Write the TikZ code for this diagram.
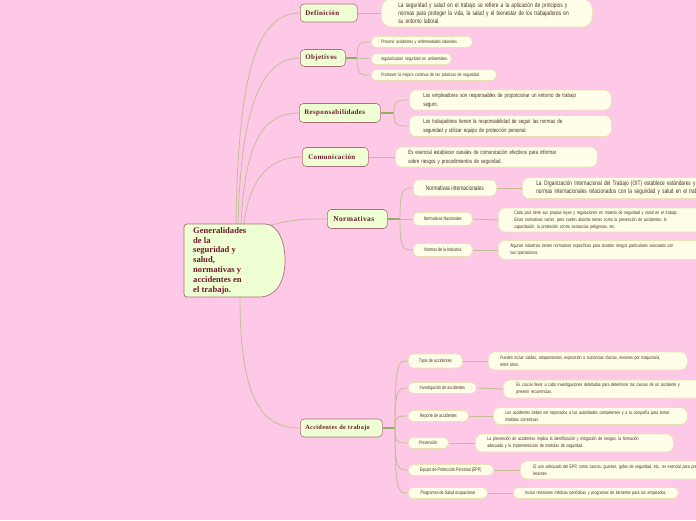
\documentclass[tikz,border=0pt]{standalone}
\usepackage{fontspec}
\setmainfont{Liberation Sans}
\newfontfamily\condf[FakeStretch=0.74]{Liberation Sans}
\newfontfamily\titlef[LetterSpace=5]{Liberation Serif}
\newfontfamily\cenf{Liberation Serif}
\usetikzlibrary{calc}
\definecolor{bgpink}{RGB}{253,201,230}
\definecolor{mainf}{RGB}{238,255,212}
\definecolor{mainb}{RGB}{170,110,125}
\definecolor{maintext}{RGB}{110,26,42}
\definecolor{leaff}{RGB}{255,255,233}
\definecolor{leafb}{RGB}{235,226,180}
\definecolor{leaftext}{RGB}{68,50,36}
\definecolor{conn}{RGB}{197,189,151}
\definecolor{forkc}{RGB}{150,172,100}
\pgfdeclarelayer{back}
\pgfdeclarelayer{links}
\pgfsetlayers{back,links,main}
\tikzset{
  mainnode/.style={draw=mainb, fill=mainf, line width=0.6pt, rounded corners=4pt, anchor=west, align=left,
    text=maintext, font=\titlef\bfseries\fontsize{7}{8}\selectfont, inner xsep=5pt, inner ysep=0pt},
  leaf/.style={draw=leafb, fill=leaff, line width=0.6pt, rounded corners=7pt, anchor=west, align=left,
    text=leaftext, inner ysep=0pt},
  subnode/.style={draw=leafb, fill=leaff, line width=0.6pt, rounded corners=5pt, anchor=west, align=center,
    text=leaftext, inner ysep=0pt, inner xsep=1pt},
  link/.style={draw=conn, line width=0.8pt},
  forkline/.style={draw=forkc, line width=1.2pt},
}
\newcommand{\lf}[2]{\condf\fontsize{#1}{#2}\selectfont}
\begin{document}
\begin{tikzpicture}[x=1pt,y=-1pt]
\useasboundingbox (0,0) rectangle (696,520);
\clip (0,0) rectangle (696,520);
\begin{pgfonlayer}{back}
\fill[bgpink] (0,0) rectangle (696,520);
\end{pgfonlayer}

% central node
\path[draw=mainb, fill=mainf, line width=0.7pt, rounded corners=3pt]
  (184,224) -- (262,224) [rounded corners=0pt] .. controls (277,224) and (285,240) .. (285,260)
  .. controls (285,281) and (277,297) .. (259,297) [rounded corners=3pt] -- (184,297) -- cycle;
\node[anchor=north west, align=left, text=maintext, inner sep=0pt,
  font=\cenf\bfseries\fontsize{8.6}{9.9}\selectfont] (cen) at (193,227)
  {Generalidades\\de la\\seguridad y\\salud,\\normativas y\\accidentes en\\el trabajo.};
\coordinate (s1) at (236,224);
\coordinate (s2) at (238,224);
\coordinate (s3) at (241,224);
\coordinate (s4) at (244,224);
\coordinate (s5) at (265,227);
\coordinate (s6) at (240,297);

% main nodes
\node[mainnode, minimum height=18pt, text width=47pt] (def) at (300,13) {Definición};
\node[mainnode, minimum height=17pt, text width=35pt] (obj) at (300,58) {Objetivos};
\node[mainnode, minimum height=19pt, text width=71pt] (res) at (299,113) {Responsabilidades};
\node[mainnode, minimum height=19pt, inner xsep=6pt, text width=54pt] (com) at (302,157) {Comunicación};
\node[mainnode, minimum height=19pt, text width=48pt, inner xsep=6pt, font=\titlef\bfseries\fontsize{7.5}{8}\selectfont] (nor) at (327,219) {Normativas};
\node[mainnode, minimum height=18pt, text width=72pt, font=\titlef\bfseries\fontsize{6.3}{8}\selectfont] (acc) at (300,428) {Accidentes de trabajo};

% Definición
\node[leaf, rounded corners=10pt, minimum height=28pt, inner xsep=17pt, text width=177pt, font=\lf{6.5}{8}] (defl) at (381,13)
  {La seguridad y salud en el trabajo se refiere a la aplicación de principios y\\normas para proteger la vida, la salud y el bienestar de los trabajadores en\\su entorno laboral.};

% Objetivos
\node[leaf, rounded corners=5pt, minimum height=11pt, inner xsep=10pt, text width=81pt, font=\lf{4.8}{6}] (o1) at (371,42)
  {Prevenir accidentes y enfermedades laborales.};
\node[leaf, rounded corners=5pt, minimum height=11pt, inner xsep=10pt, text width=60pt, font=\lf{4.8}{6}] (o2) at (371,59)
  {\mbox{regularizacion seguridad en ambientales.}};
\node[leaf, rounded corners=5pt, minimum height=11pt, inner xsep=10pt, text width=105pt, font=\lf{4.8}{6}] (o3) at (371,75)
  {Promover la mejora continua de las prácticas de seguridad.};

% Responsabilidades
\node[leaf, minimum height=20pt, inner xsep=14pt, text width=174pt, font=\lf{6}{9}] (r1) at (409,100)
  {Los empleadores son responsables de proporcionar un entorno de trabajo\\seguro.};
\node[leaf, minimum height=21pt, inner xsep=14pt, text width=174pt, font=\lf{6}{9}] (r2) at (409,126)
  {Los trabajadores tienen la responsabilidad de seguir las normas de\\seguridad y utilizar equipo de protección personal.};

% Comunicación
\node[leaf, minimum height=20pt, inner xsep=13pt, text width=176pt, font=\lf{6}{9}] (coml) at (395,157)
  {Es esencial establecer canales de comunicación efectivos para informar\\sobre riesgos y procedimientos de seguridad.};

% Normativas
\node[subnode, minimum width=83pt, minimum height=16pt, font=\lf{6.5}{8}] (ni) at (413,188) {Normativas internacionales};
\node[subnode, minimum width=59pt, minimum height=13pt, font=\lf{5}{6}] (nn) at (413,219) {Normativas Nacionales};
\node[subnode, minimum width=59pt, minimum height=13pt, font=\lf{5}{6}] (nd) at (413,250) {Normas de la Industria};
\node[leaf, minimum height=21pt, inner xsep=14pt, text width=200pt, font=\lf{6.5}{8.5}] (nil) at (522,188)
  {La Organización Internacional del Trabajo (OIT) establece estándares y\\normas internacionales relacionados con la seguridad y salud en el trabajo.};
\node[leaf, minimum height=24pt, inner xsep=16pt, text width=180pt, font=\lf{4.9}{7}] (nnl) at (498,220)
  {Cada país tiene sus propias leyes y regulaciones en materia de seguridad y salud en el trabajo.\\Estas normativas varían, pero suelen abordar temas como la prevención de accidentes, la\\capacitación, la protección contra sustancias peligrosas, etc.};
\node[leaf, minimum height=19pt, inner xsep=12pt, text width=185pt, font=\lf{4.9}{7}] (ndl) at (498,250)
  {Algunas industrias tienen normativas específicas para abordar riesgos particulares asociados con\\sus operaciones.};

% Accidentes
\node[subnode, minimum width=54pt, minimum height=14pt, font=\lf{5}{6}] (t1) at (408,361) {Tipos de accidentes};
\node[subnode, minimum width=68pt, minimum height=11pt, font=\lf{5}{6}] (t2) at (408,388) {Investigación de accidentes};
\node[subnode, minimum width=60pt, minimum height=11pt, font=\lf{5}{6}] (t3) at (408,416) {Reporte de accidentes};
\node[subnode, minimum width=40pt, minimum height=11pt, font=\lf{5}{6}] (t4) at (408,443) {Prevención};
\node[subnode, minimum width=85pt, minimum height=11pt, font=\lf{5}{6}] (t5) at (408,470) {Equipo de Protección Personal (EPP)};
\node[subnode, minimum width=79pt, minimum height=11pt, font=\lf{5}{6}] (t6) at (408,493) {Programas de Salud ocupacional};
\node[leaf, minimum height=18pt, inner xsep=12pt, text width=175pt, font=\lf{4.9}{7}] (a1) at (488,361)
  {Pueden incluir caídas, atrapamientos, exposición a sustancias tóxicas, lesiones por maquinaria,\\entre otros.};
\node[leaf, minimum height=18pt, inner xsep=13pt, text width=180pt, font=\lf{4.9}{7}] (a2) at (503,389)
  {Es crucial llevar a cabo investigaciones detalladas para determinar las causas de un accidente y\\prevenir recurrencias.};
\node[leaf, minimum height=17pt, inner xsep=12pt, text width=170pt, font=\lf{4.9}{7}] (a3) at (493,416)
  {Los accidentes deben ser reportados a las autoridades competentes y a la compañía para tomar\\medidas correctivas.};
\node[leaf, minimum height=18pt, inner xsep=12pt, text width=174pt, font=\lf{4.9}{7}] (a4) at (475,443)
  {La prevención de accidentes implica la identificación y mitigación de riesgos, la formación\\adecuada y la implementación de medidas de seguridad.};
\node[leaf, minimum height=18pt, inner xsep=13pt, text width=180pt, font=\lf{4.9}{7}] (a5) at (520,470)
  {El uso adecuado del EPP, como cascos, guantes, gafas de seguridad, etc., es esencial para prevenir\\lesiones.};
\node[leaf, rounded corners=5pt, minimum height=11pt, inner xsep=12pt, text width=141pt, font=\lf{4.9}{7}] (a6) at (513,493)
  {\mbox{Incluir revisiones médicas periódicas y programas de bienestar para los empleados.}};

% forks
\coordinate (fo) at (357,58);
\coordinate (fr) at (394,113);
\coordinate (fn) at (400,219);
\coordinate (fa) at (395,428);

\begin{pgfonlayer}{links}
% from central
\draw[link] (s1) .. controls (238,70) and (258,13) .. (def.west);
\draw[link] (s2) .. controls (241,105) and (262,58) .. (obj.west);
\draw[link] (s3) .. controls (245,140) and (264,113) .. (res.west);
\draw[link] (s4) .. controls (250,175) and (272,157) .. (com.west);
\draw[link] (s5) .. controls (290,219) and (305,219) .. (nor.west);
\draw[link] (s6) .. controls (240,400) and (262,428) .. (acc.west);
% single children
\draw[link] (def.east) -- (defl.west);
\draw[link] (com.east) -- (coml.west);
% Objetivos
\draw[forkline] (obj.east) -- (fo);
\draw[link] (fo) .. controls (357,42) and (360,42) .. (o1.west);
\draw[link] (fo) -- (o2.west);
\draw[link] (fo) .. controls (357,75) and (360,75) .. (o3.west);
% Responsabilidades
\draw[forkline] (res.east) -- (fr);
\draw[link] (fr) .. controls (394,100) and (397,100) .. (r1.west);
\draw[link] (fr) .. controls (394,126) and (397,126) .. (r2.west);
% Normativas
\draw[forkline] (nor.east) -- (fn);
\draw[link] (fn) .. controls (400,188) and (403,188) .. (ni.west);
\draw[link] (fn) -- (nn.west);
\draw[link] (fn) .. controls (400,250) and (403,250) .. (nd.west);
\draw[link] (ni.east) -- (nil.west);
\draw[link] (nn.east) -- (nnl.west);
\draw[link] (nd.east) -- (ndl.west);
% Accidentes
\draw[forkline] (acc.east) -- (fa);
\foreach \t in {t1,t2,t3,t4,t5,t6}{
  \draw[link] (fa) .. controls ($(fa|-\t.west)$) and ($(fa|-\t.west)+(3,0)$) .. (\t.west);
}
\draw[link] (t1.east) -- (a1.west);
\draw[link] (t2.east) -- (a2.west);
\draw[link] (t3.east) -- (a3.west);
\draw[link] (t4.east) -- (a4.west);
\draw[link] (t5.east) -- (a5.west);
\draw[link] (t6.east) -- (a6.west);
\end{pgfonlayer}
\end{tikzpicture}
\end{document}
